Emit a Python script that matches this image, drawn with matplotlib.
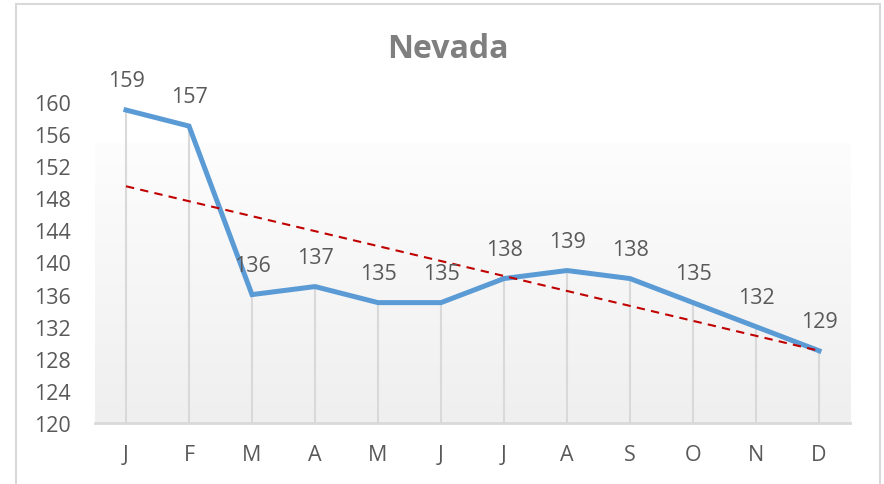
import matplotlib
matplotlib.use("Agg")
import matplotlib.pyplot as plt
import numpy as np
from matplotlib.patches import Rectangle

plt.rcParams['font.family'] = ['Open Sans', 'DejaVu Sans']

months = ["J", "F", "M", "A", "M", "J", "J", "A", "S", "O", "N", "D"]
values = [159, 157, 136, 137, 135, 135, 138, 139, 138, 135, 132, 129]
# trendline end values (first and last month)
trend = [149.5, 129.0]
yticks = list(range(120, 161, 4))

txt = '#595959'
grid = '#d9d9d9'

fig = plt.figure(figsize=(8.84, 4.85), dpi=100)
ax = fig.add_axes([94.5 / 884, 61 / 485, 756 / 884, 321 / 485])

x = np.arange(len(values))
ax.set_xlim(-0.5, 11.5)
ax.set_ylim(120, 160)

# plot area fill, light at the top, grey towards the axis
grad = np.linspace(0, 1, 256).reshape(-1, 1)
cmap = matplotlib.colors.LinearSegmentedColormap.from_list('bg', ['#fdfdfd', '#efefef'])
ax.imshow(grad, cmap=cmap, extent=(-0.5, 11.5, 120, 154.8), aspect='auto',
          origin='upper', zorder=0)

ax.vlines(x, 120, values, color=grid, lw=1.5, zorder=1)
ax.plot(x, values, color='#5b9bd5', lw=3.6, solid_joinstyle='miter', zorder=3)
ax.plot([x[0], x[-1]], trend, color='#c00000', lw=1.5, ls=(0, (4, 3)), zorder=4)

for xi, v in zip(x, values):
    ax.annotate(str(v), (xi, v), xytext=(0, 17), textcoords='offset points',
                ha='center', va='baseline', fontsize=15.5, color=txt, zorder=5)

ax.set_xticks(x)
ax.set_xticklabels(months)
ax.set_yticks(yticks)
ax.tick_params(axis='both', length=0, labelsize=15.5, labelcolor=txt)
ax.tick_params(axis='y', pad=17)
ax.tick_params(axis='x', pad=15)
for s in ['top', 'left', 'right']:
    ax.spines[s].set_visible(False)
ax.spines['bottom'].set_color(grid)
ax.spines['bottom'].set_linewidth(2)
ax.patch.set_alpha(0)

fig.text(448 / 884, 1 - 49 / 485, "Nevada", ha='center', va='center',
         fontsize=23, fontweight='bold', color='#7f7f7f')

fig.patches.append(Rectangle((16 / 884, -0.02), 864 / 884, 1 - 5 / 485 + 0.02,
                             transform=fig.transFigure, fill=False,
                             edgecolor=grid, lw=1.5))

fig.savefig("out.png", dpi=100)
